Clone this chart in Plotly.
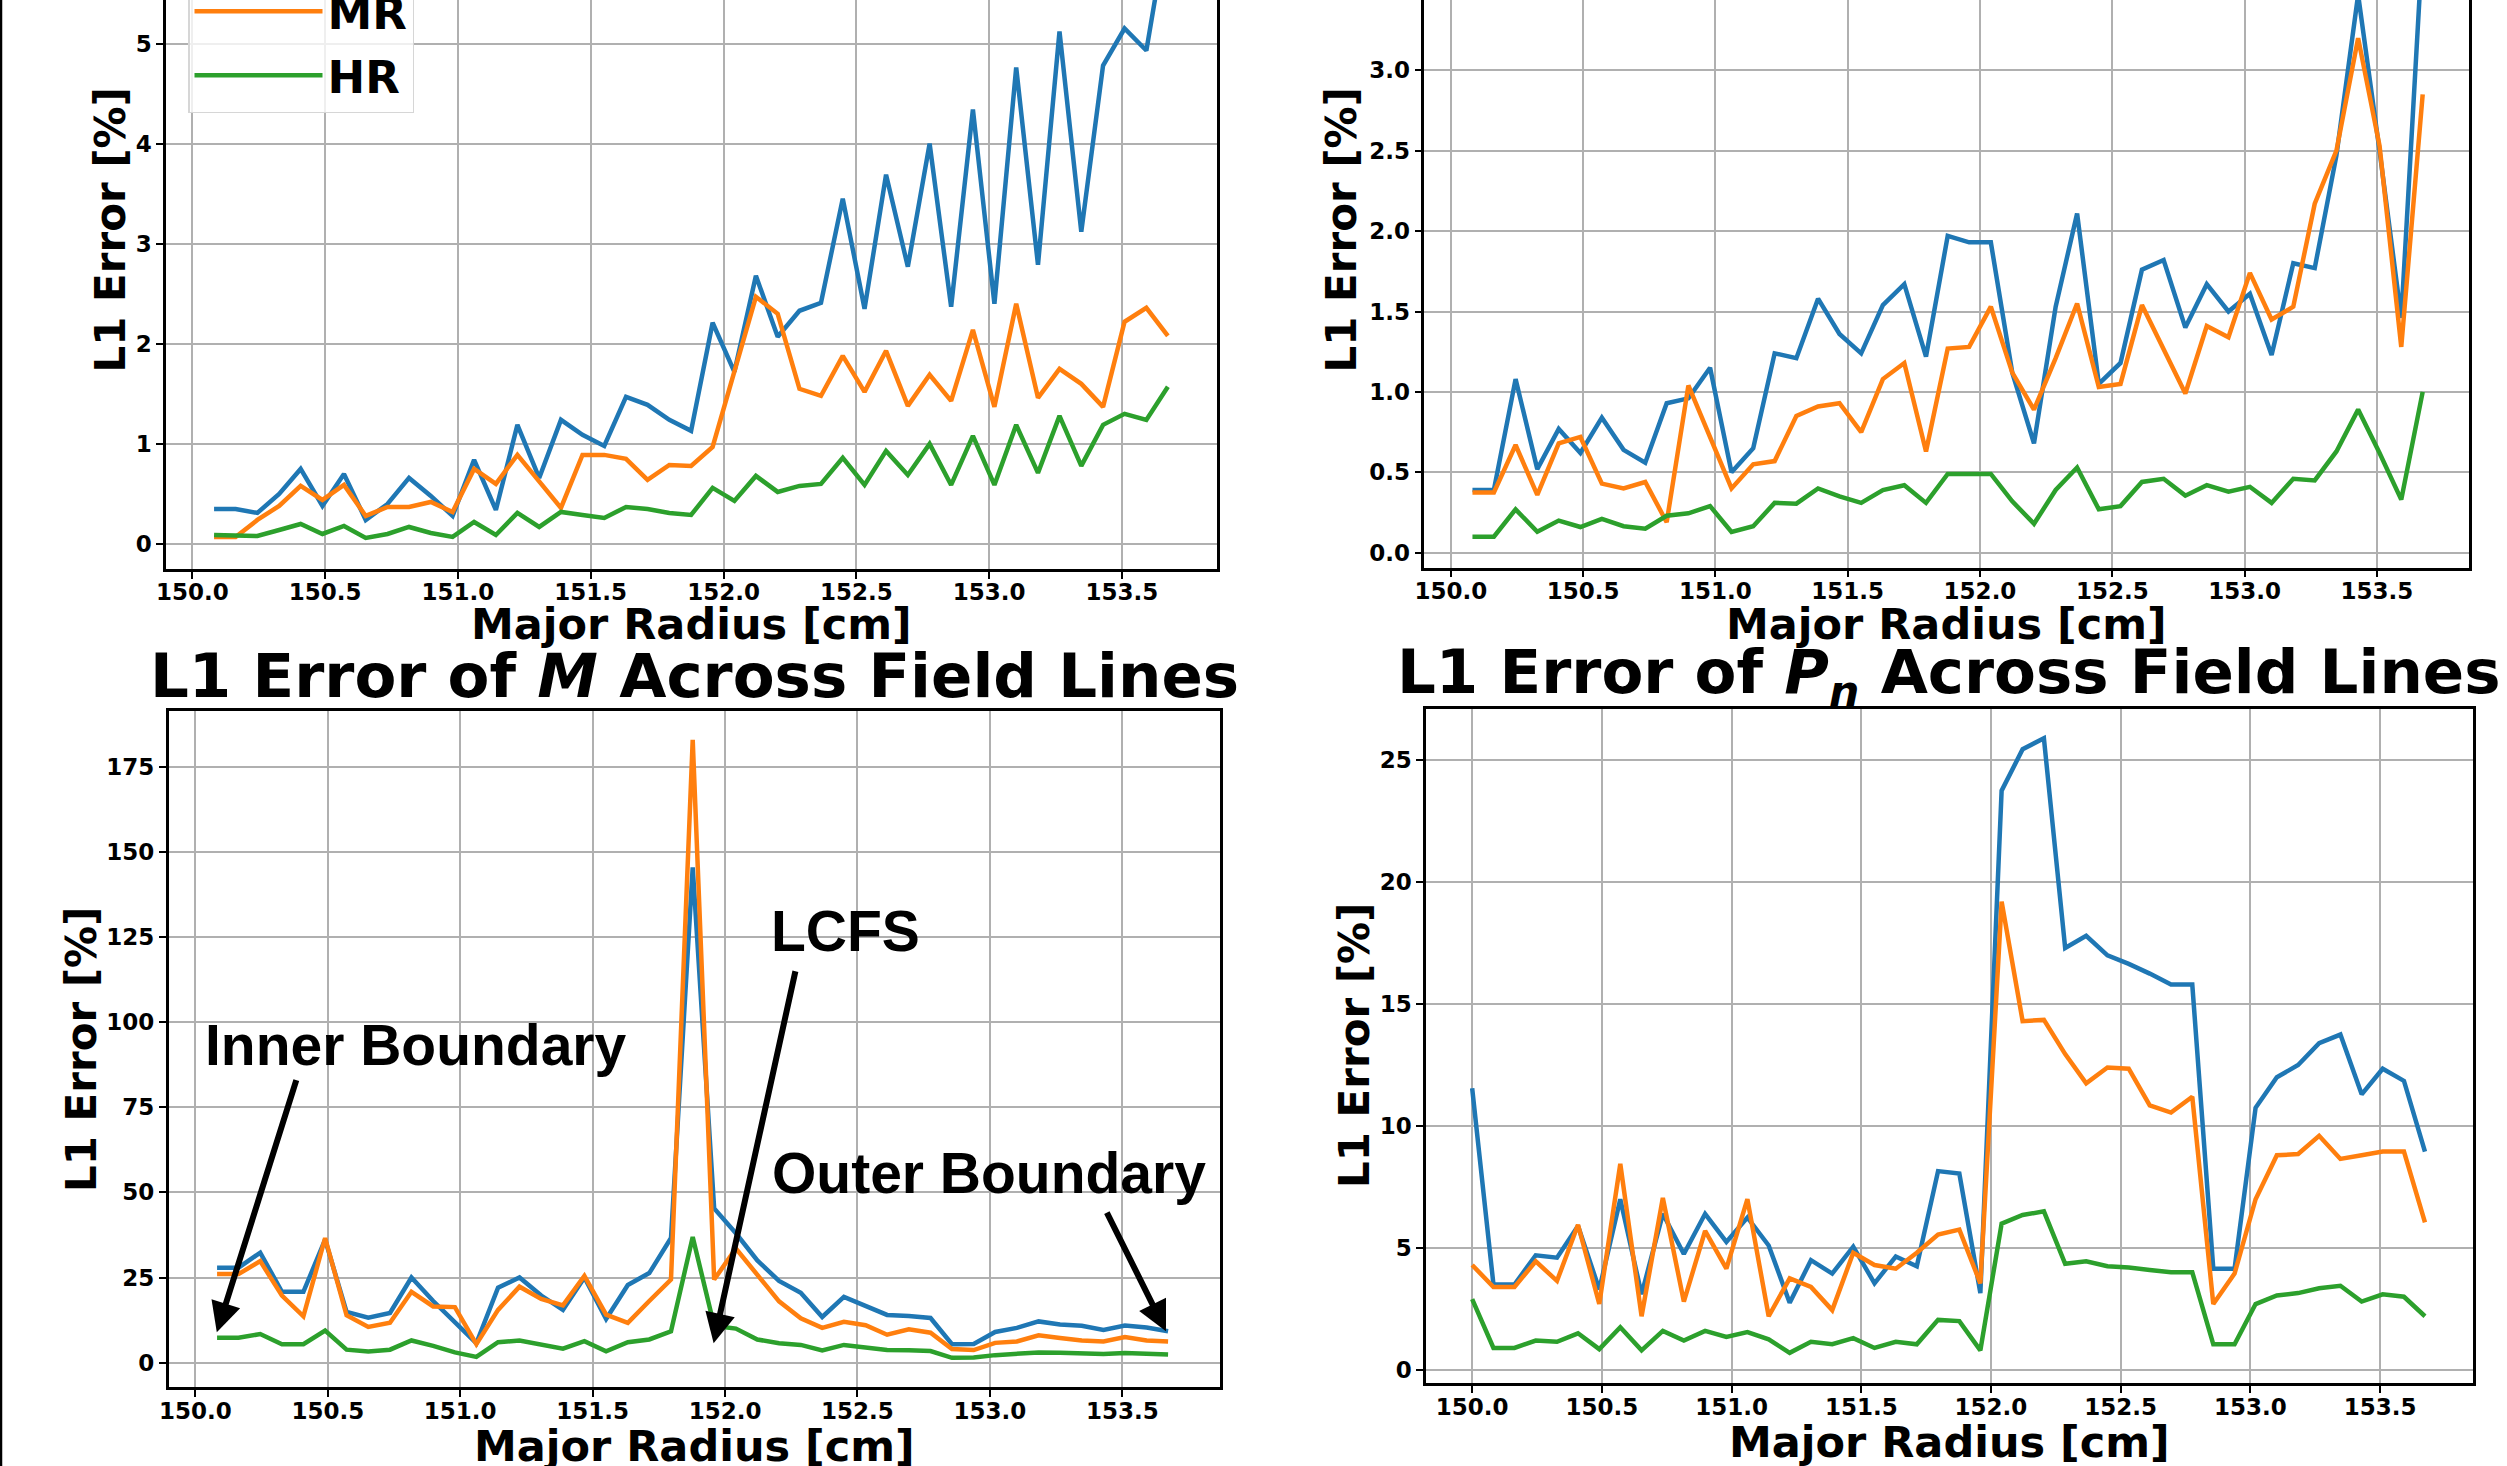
import plotly.graph_objects as go

# ---------------- data ----------------
major_radius = [150.0, 150.082, 150.163, 150.245, 150.327, 150.408, 150.49, 150.571, 150.653,
                150.735, 150.816, 150.898, 150.98, 151.061, 151.143, 151.224, 151.306, 151.388,
                151.469, 151.551, 151.633, 151.714, 151.796, 151.878, 151.959, 152.041, 152.122,
                152.204, 152.286, 152.367, 152.449, 152.531, 152.612, 152.694, 152.776, 152.857,
                152.939, 153.02, 153.102, 153.184, 153.265, 153.347, 153.429, 153.51, 153.592,
                153.673]
radius_45 = major_radius[1:]

series_names = ["LR", "MR", "HR"]
series_colors = ["#1f77b4", "#ff7f0e", "#2ca02c"]

# top-left panel
tl_lr = [0.35, 0.35, 0.31, 0.50, 0.75, 0.38, 0.70, 0.24, 0.40, 0.66, 0.48, 0.28, 0.84, 0.34, 1.19,
         0.66, 1.24, 1.09, 0.98, 1.47, 1.39, 1.24, 1.13, 2.21, 1.72, 2.68, 2.07, 2.33, 2.41, 3.45,
         2.35, 3.69, 2.77, 4.00, 2.37, 4.34, 2.40, 4.76, 2.79, 5.12, 3.12, 4.78, 5.15, 4.93, 6.2]
tl_mr = [0.07, 0.07, 0.24, 0.38, 0.58, 0.44, 0.59, 0.28, 0.37, 0.37, 0.42, 0.32, 0.75, 0.60, 0.89,
         0.62, 0.36, 0.89, 0.89, 0.85, 0.64, 0.79, 0.78, 0.97, 1.73, 2.47, 2.30, 1.55, 1.48, 1.88,
         1.52, 1.93, 1.38, 1.69, 1.43, 2.14, 1.37, 2.40, 1.46, 1.75, 1.60, 1.37, 2.22, 2.36, 2.08]
tl_hr = [0.09, 0.09, 0.08, 0.14, 0.20, 0.10, 0.18, 0.06, 0.10, 0.17, 0.11, 0.07, 0.22, 0.09, 0.31,
         0.17, 0.32, 0.29, 0.26, 0.37, 0.35, 0.31, 0.29, 0.56, 0.43, 0.68, 0.52, 0.58, 0.60, 0.86,
         0.59, 0.93, 0.69, 1.00, 0.59, 1.08, 0.59, 1.19, 0.71, 1.28, 0.78, 1.19, 1.30, 1.24, 1.57]

# top-right panel
tr_lr = [0.39, 0.39, 1.08, 0.52, 0.77, 0.62, 0.84, 0.64, 0.56, 0.93, 0.96, 1.15, 0.50, 0.65, 1.24,
         1.21, 1.58, 1.36, 1.24, 1.54, 1.67, 1.22, 1.97, 1.93, 1.93, 1.12, 0.68, 1.53, 2.11, 1.05,
         1.18, 1.76, 1.82, 1.40, 1.67, 1.50, 1.61, 1.23, 1.80, 1.77, 2.47, 3.47, 2.50, 1.46, 3.8]
tr_mr = [0.375, 0.375, 0.67, 0.36, 0.68, 0.72, 0.43, 0.40, 0.44, 0.19, 1.04, 0.72, 0.40, 0.55, 0.57,
         0.85, 0.91, 0.93, 0.75, 1.08, 1.18, 0.63, 1.27, 1.28, 1.53, 1.12, 0.89, 1.21, 1.55, 1.03,
         1.05, 1.54, 1.26, 0.99, 1.41, 1.34, 1.74, 1.45, 1.53, 2.17, 2.50, 3.20, 2.53, 1.28, 2.85]
tr_hr = [0.10, 0.10, 0.27, 0.13, 0.20, 0.16, 0.21, 0.165, 0.15, 0.23, 0.245, 0.29, 0.13, 0.165, 0.31,
         0.305, 0.40, 0.35, 0.31, 0.39, 0.42, 0.31, 0.49, 0.49, 0.49, 0.32, 0.18, 0.39, 0.53, 0.27,
         0.29, 0.44, 0.46, 0.355, 0.42, 0.38, 0.41, 0.31, 0.46, 0.45, 0.63, 0.89, 0.62, 0.33, 1.00]

# bottom-left panel: L1 error of M
m_lr = [27.9, 27.9, 32.3, 20.8, 20.8, 36.1, 14.9, 13.2, 14.6, 25.0, 18.1, 12.0, 5.7, 22.0, 25.0,
        19.7, 15.5, 25.0, 12.8, 22.8, 26.3, 36.6, 145.5, 45.3, 38.0, 30.0, 24.0, 20.5, 13.4, 19.3,
        16.6, 14.0, 13.7, 13.1, 5.4, 5.5, 9.0, 10.2, 12.1, 11.2, 10.8, 9.6, 10.9, 10.3, 9.2]
m_mr = [26.0, 26.0, 29.8, 19.7, 13.6, 36.6, 13.9, 10.5, 11.7, 20.8, 16.5, 16.3, 5.4, 15.5, 22.3,
        18.7, 16.8, 25.5, 14.1, 11.7, 18.1, 24.4, 182.9, 24.4, 33.5, 26.0, 18.0, 13.0, 10.2, 12.0,
        11.0, 8.2, 9.8, 8.8, 4.0, 3.7, 5.8, 6.2, 8.0, 7.2, 6.5, 6.2, 7.5, 6.5, 6.2]
m_hr = [7.3, 7.3, 8.4, 5.4, 5.4, 9.4, 3.8, 3.3, 3.8, 6.5, 4.9, 3.0, 1.7, 6.0, 6.5,
        5.2, 4.1, 6.3, 3.3, 6.0, 6.8, 9.2, 36.9, 10.8, 10.0, 6.8, 5.7, 5.2, 3.6, 5.2,
        4.3, 3.7, 3.6, 3.4, 1.4, 1.5, 2.2, 2.5, 3.0, 2.9, 2.8, 2.5, 2.8, 2.7, 2.4]

# bottom-right panel: L1 error of P_n
pn_lr = [11.55, 3.5, 3.5, 4.7, 4.6, 5.9, 3.3, 7.0, 3.1, 6.4, 4.75, 6.4, 5.25, 6.25, 5.1, 2.75,
         4.5, 3.95, 5.05, 3.55, 4.65, 4.25, 8.15, 8.05, 3.15, 23.75, 25.45, 25.9, 17.3, 17.8,
         17.0, 16.65, 16.25, 15.8, 15.8, 4.15, 4.15, 10.75, 12.0, 12.5, 13.4, 13.75, 11.3,
         12.35, 11.85, 8.95]
pn_mr = [4.3, 3.4, 3.4, 4.45, 3.65, 5.95, 2.7, 8.45, 2.2, 7.05, 2.8, 5.7, 4.15, 7.0, 2.2, 3.75,
         3.4, 2.45, 4.8, 4.3, 4.15, 4.8, 5.55, 5.75, 3.55, 19.2, 14.3, 14.35, 12.95, 11.75,
         12.4, 12.35, 10.85, 10.55, 11.2, 2.7, 3.95, 7.0, 8.8, 8.85, 9.6, 8.65, 8.8, 8.95, 8.95, 6.05]
pn_hr = [2.9, 0.9, 0.9, 1.2, 1.15, 1.5, 0.85, 1.75, 0.8, 1.6, 1.2, 1.6, 1.35, 1.55, 1.25, 0.7,
         1.15, 1.05, 1.3, 0.9, 1.15, 1.05, 2.05, 2.0, 0.8, 6.0, 6.35, 6.5, 4.35, 4.45,
         4.25, 4.2, 4.1, 4.0, 4.0, 1.05, 1.05, 2.7, 3.05, 3.15, 3.35, 3.45, 2.8, 3.1, 3.0, 2.2]

x_ticks = [150.0, 150.5, 151.0, 151.5, 152.0, 152.5, 153.0, 153.5]
title_m = "L1 Error of <i>M</i> Across Field Lines"
title_pn = "L1 Error of <i>P<sub>n</sub></i> Across Field Lines"
x_label = "Major Radius [cm]"
y_label = "L1 Error [%]"

# ---------------- figure ----------------
W, H = 2507, 1466
FONT = "DejaVu Sans"
fig = go.Figure()

panels = [
    ("x", "y", radius_45, [tl_lr, tl_mr, tl_hr], True),
    ("x2", "y2", radius_45, [tr_lr, tr_mr, tr_hr], False),
    ("x3", "y3", radius_45, [m_lr, m_mr, m_hr], False),
    ("x4", "y4", major_radius, [pn_lr, pn_mr, pn_hr], False),
]
for xa, ya, xs, sets, show in panels:
    for name, color, ys in zip(series_names, series_colors, sets):
        fig.add_trace(go.Scatter(
            x=xs, y=ys, mode="lines", name=name, legendgroup=name,
            line=dict(color=color, width=4.5), showlegend=show,
            xaxis=xa, yaxis=ya))


def px_x(p):
    return p / W


def px_y(p):
    return 1 - p / H


tickfont = dict(family=FONT, size=23, color="black", weight="bold")
common_axis = dict(showgrid=True, gridcolor="#b0b0b0", gridwidth=2, zeroline=False,
                   showline=True, linecolor="black", linewidth=2.5,
                   ticks="outside", ticklen=7, tickwidth=2, tickcolor="black",
                   tickfont=tickfont)

xdom = {
    "x": [px_x(166), px_x(1217)],
    "x2": [px_x(1424.3), px_x(2469)],
    "x3": [px_x(168.6), px_x(1220)],
    "x4": [px_x(1426), px_x(2472.7)],
}
ydom = {
    "y": [px_y(569), 1.0],
    "y2": [px_y(567.7), 1.0],
    "y3": [px_y(1387.4), px_y(711)],
    "y4": [px_y(1383.3), px_y(709)],
}
xr = {
    "x": [149.901, 153.858],
    "x2": [149.90, 153.848],
    "x3": [149.899, 153.869],
    "x4": [149.822, 153.857],
}
yr = {
    "y": [-0.25, 5.435],
    "y2": [-0.093, 3.437],
    "y3": [-7.28, 191.4],
    "y4": [-0.55, 27.1],
}
ytick = {
    "y": dict(tickvals=[0, 1, 2, 3, 4, 5], tickformat="d"),
    "y2": dict(tickvals=[0, 0.5, 1.0, 1.5, 2.0, 2.5, 3.0], tickformat=".1f"),
    "y3": dict(tickvals=[0, 25, 50, 75, 100, 125, 150, 175], tickformat="d"),
    "y4": dict(tickvals=[0, 5, 10, 15, 20, 25], tickformat="d"),
}

layout_axes = {}
for i, (xa, ya) in enumerate([("x", "y"), ("x2", "y2"), ("x3", "y3"), ("x4", "y4")]):
    top_row = i < 2
    xkey = "xaxis" if xa == "x" else "xaxis" + xa[1:]
    ykey = "yaxis" if ya == "y" else "yaxis" + ya[1:]
    layout_axes[xkey] = dict(common_axis, domain=xdom[xa], range=xr[xa], anchor=ya,
                             tickvals=x_ticks, tickformat=".1f", ticklabelstandoff=-6,
                             mirror=False if top_row else True)
    layout_axes[ykey] = dict(common_axis, domain=ydom[ya], range=yr[ya], anchor=xa,
                             mirror=True, **ytick[ya])

annotations = []
title_font = dict(family=FONT, size=43, color="black", weight="bold")
# x axis titles
for cx, cy in [(691.5, 624), (1946.7, 624), (694.3, 1446), (1949.3, 1442)]:
    annotations.append(dict(text=x_label, x=px_x(cx), y=px_y(cy), xref="paper", yref="paper",
                            xanchor="center", yanchor="middle", showarrow=False, font=title_font))
# y axis titles
for cx, cy in [(110, 230.5), (1341, 230.5), (81, 1050), (1354, 1046)]:
    annotations.append(dict(text=y_label, x=px_x(cx), y=px_y(cy), xref="paper", yref="paper",
                            xanchor="center", yanchor="middle", textangle=-90, showarrow=False,
                            font=dict(family=FONT, size=42, color="black", weight="bold")))
# subplot titles
for txt, cx in [(title_m, 694.3), (title_pn, 1949.3)]:
    annotations.append(dict(text=txt, x=px_x(cx), y=px_y(676), xref="paper", yref="paper",
                            xanchor="center", yanchor="middle", showarrow=False,
                            font=dict(family=FONT, size=61, color="black", weight="bold")))

# boundary annotations on the M panel
note_font = dict(family="Liberation Sans", size=57, color="black", weight="bold")
notes = [("Inner Boundary", 150.834, 93.2), ("LCFS", 152.456, 126.9), ("Outer Boundary", 152.997, 55.6)]
for txt, nx, ny in notes:
    annotations.append(dict(text=txt, x=nx, y=ny, xref="x3", yref="y3", xanchor="center",
                            yanchor="middle", showarrow=False, font=note_font))
arrows = [(150.081, 8.9, 150.383, 83.4), (151.957, 5.7, 152.267, 115.4), (153.665, 9.2, 153.439, 44.5)]
for hx, hy, tx, ty in arrows:
    annotations.append(dict(text="", x=hx, y=hy, ax=tx, ay=ty, xref="x3", yref="y3",
                            axref="x3", ayref="y3", showarrow=True, arrowhead=2, arrowsize=1,
                            arrowwidth=6, arrowcolor="black", standoff=0))

fig.update_layout(
    width=W, height=H,
    margin=dict(l=0, r=0, t=0, b=0, pad=0, autoexpand=False),
    paper_bgcolor="white", plot_bgcolor="white",
    showlegend=True,
    legend=dict(x=px_x(188), y=px_y(113), xanchor="left", yanchor="bottom",
                font=dict(family=FONT, size=45, color="black", weight="bold"),
                bgcolor="rgba(255,255,255,0.8)", bordercolor="#d6d6d6", borderwidth=1.5,
                itemwidth=128, traceorder="grouped", tracegroupgap=2.5),
    annotations=annotations,
    shapes=[dict(type="line", xref="paper", yref="paper", x0=px_x(1), x1=px_x(1), y0=0, y1=1,
                 line=dict(color="black", width=2.5))],
    **layout_axes,
)

fig.write_html("out.html")
